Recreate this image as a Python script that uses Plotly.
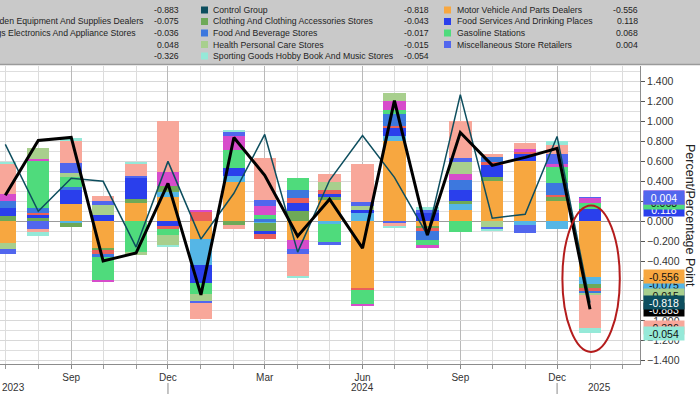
import plotly.graph_objects as go
import pandas as pd

# ---------------- data ----------------
months = pd.date_range("2023-07-01", "2025-01-01", freq="MS")

motor       = [-0.220, 0.000, 0.173, -0.270, 0.180, 0.240, -0.177, 0.390, 0.000, -0.193, 0.210, -0.680, 0.800, -0.050, 0.110, 0.407, 0.607, 0.207, -0.556]
building    = [0.000, 0.000, -0.020, 0.000, 0.000, 0.050, -0.267, 0.067, -0.015, 0.000, -0.025, 0.083, 0.057, 0.000, 0.067, 0.000, -0.043, -0.083, -0.075]
clothing    = [0.050, 0.030, -0.035, -0.020, 0.045, 0.067, 0.000, -0.043, -0.080, 0.100, 0.040, 0.000, 0.000, -0.020, 0.027, 0.033, 0.000, 0.033, -0.043]
food_serv   = [0.087, 0.040, 0.140, 0.067, 0.210, -0.050, -0.180, 0.077, -0.035, 0.083, 0.020, 0.033, 0.083, 0.087, 0.113, 0.133, 0.073, 0.000, 0.118]
electronics = [0.000, 0.010, 0.000, -0.035, 0.000, -0.025, 0.090, 0.000, -0.050, 0.050, 0.040, -0.013, 0.017, -0.033, 0.000, 0.020, 0.010, 0.027, -0.036]
food_bev    = [0.063, 0.057, 0.027, -0.030, 0.000, 0.000, 0.000, 0.000, 0.017, 0.083, 0.000, 0.000, 0.117, -0.083, 0.093, 0.050, 0.000, 0.117, -0.017]
gasoline    = [0.000, 0.467, 0.107, -0.245, -0.310, -0.067, -0.107, 0.180, 0.050, 0.117, -0.180, -0.133, 0.040, -0.057, -0.110, 0.000, 0.000, 0.157, 0.068]
gen_merch   = [0.077, 0.017, 0.000, -0.015, 0.000, 0.133, 0.023, 0.143, 0.090, -0.087, 0.000, -0.020, 0.087, -0.025, 0.067, 0.000, 0.030, 0.030, 0.048]
health      = [-0.060, 0.110, 0.033, 0.100, -0.030, -0.100, -0.067, 0.000, 0.000, 0.000, 0.083, 0.033, 0.090, 0.000, 0.117, -0.067, 0.000, 0.000, -0.015]
misc        = [-0.045, -0.077, 0.100, 0.040, 0.020, 0.000, -0.020, 0.040, 0.057, -0.050, -0.033, 0.043, -0.017, 0.023, 0.043, -0.015, -0.080, 0.100, 0.004]
nonstore    = [0.293, -0.033, 0.233, 0.050, 0.123, 0.517, -0.167, -0.033, 0.423, -0.223, 0.083, 0.377, -0.033, 0.000, 0.373, 0.030, 0.067, 0.093, -0.326]
sporting    = [0.023, -0.040, 0.017, 0.000, 0.017, -0.017, 0.000, 0.017, 0.000, -0.020, 0.000, 0.000, -0.020, 0.033, 0.000, -0.015, 0.000, 0.040, -0.054]

total_sales   = [0.26, 0.81, 0.84, -0.40, -0.32, 0.38, -0.74, 0.84, 0.46, -0.15, 0.22, -0.27, 1.21, -0.14, 0.89, 0.56, 0.64, 0.73, -0.883]
control_group = [0.77, 0.10, 0.43, 0.40, -0.26, 0.60, -0.18, 0.28, 0.87, -0.31, 0.41, 0.86, 0.44, -0.14, 1.27, 0.03, 0.07, 0.85, -0.818]

quarter_ticks = ["2023-09-01", "2023-12-01", "2024-03-01", "2024-06-01", "2024-09-01", "2024-12-01"]
quarter_text = ["Sep", "Dec", "Mar", "Jun", "Sep", "Dec"]

# ---------------- styling ----------------
C = {
    "motor": "#f7a740", "building": "#55b6e6", "clothing": "#6ea957", "food_serv": "#2a3fec",
    "electronics": "#e9605a", "food_bev": "#3d78de", "gasoline": "#4fdb7c", "gen_merch": "#d74ccb",
    "health": "#a8cf8d", "misc": "#5166ee", "nonstore": "#f8a79a", "sporting": "#95e9d8",
    "control": "#0d4e5e", "total": "#000000",
}

stack = [
    ("Motor Vehicle And Parts Dealers", motor, "motor"),
    ("Building Material And Garden Equipment And Supplies Dealers", building, "building"),
    ("Clothing And Clothing Accessories Stores", clothing, "clothing"),
    ("Food Services And Drinking Places", food_serv, "food_serv"),
    ("Furniture Home Furnishings Electronics And Appliance Stores", electronics, "electronics"),
    ("Food And Beverage Stores", food_bev, "food_bev"),
    ("Gasoline Stations", gasoline, "gasoline"),
    ("General Merchandise Stores", gen_merch, "gen_merch"),
    ("Health Personal Care Stores", health, "health"),
    ("Miscellaneous Store Retailers", misc, "misc"),
    ("Nonstore Retailers", nonstore, "nonstore"),
    ("Sporting Goods Hobby Book And Music Stores", sporting, "sporting"),
]

W, H = 700, 394
ML, MR, MT, MB = 0, 60, 66, 30
PW, PH = W - ML - MR, H - MT - MB
FONT = "Liberation Sans, Arial, sans-serif"
LEG = 8.7


def px(x):
    return (x - ML) / PW


def py(y):
    return (H - MB - y) / PH


fig = go.Figure()
bar_w = 21 * 24 * 3600 * 1000
for name, vals, key in stack:
    fig.add_trace(go.Bar(x=months, y=vals, name=name, marker=dict(color=C[key], line=dict(width=0)),
                         width=bar_w, showlegend=False))

fig.add_trace(go.Scatter(x=months, y=control_group, mode="lines", line=dict(color=C["control"], width=1.5),
                         showlegend=False, name="Control Group"))
fig.add_trace(go.Scatter(x=months, y=total_sales, mode="lines", line=dict(color=C["total"], width=3),
                         showlegend=False, name="Retail Sales"))

# ---------------- legend band ----------------
shapes = [
    dict(type="rect", xref="paper", yref="paper", x0=px(0), x1=px(W), y0=py(64), y1=py(0),
         fillcolor="#c9c9c9", line=dict(width=0), layer="below"),
    dict(type="line", xref="paper", yref="paper", x0=px(0), x1=px(W), y0=py(64.5), y1=py(64.5),
         line=dict(color="#9a9a9a", width=1.5)),
]
ann = []
rows = [10, 21.5, 33, 44.5, 56]


def txt(x, y, s, anchor="left", size=LEG, color="#1e1e1e"):
    ann.append(dict(x=px(x), y=py(y), xref="paper", yref="paper", text=s, showarrow=False,
                    xanchor=anchor, yanchor="middle", font=dict(family=FONT, size=size, color=color)))


fmt = lambda v: f"{v:.3f}"

# column 1 (labels cut off on the left, as in the source)
txt(146, rows[1], "Building Material And Garden Equipment And Supplies Dealers", "right")
txt(138, rows[2], "Furniture Home Furnishings Electronics And Appliance Stores", "right")
for r, v in zip(rows, [total_sales[-1], building[-1], electronics[-1], gen_merch[-1], nonstore[-1]]):
    txt(181, r, fmt(v), "right")

col2 = [("Control Group", control_group, "control"), ("Clothing And Clothing Accessories Stores", clothing, "clothing"),
        ("Food And Beverage Stores", food_bev, "food_bev"), ("Health Personal Care Stores", health, "health"),
        ("Sporting Goods Hobby Book And Music Stores", sporting, "sporting")]
col3 = [("Motor Vehicle And Parts Dealers", motor, "motor"), ("Food Services And Drinking Places", food_serv, "food_serv"),
        ("Gasoline Stations", gasoline, "gasoline"), ("Miscellaneous Store Retailers", misc, "misc")]
for (lab, vals, key), r in zip(col2, rows):
    shapes.append(dict(type="rect", xref="paper", yref="paper", x0=px(201), x1=px(208), y0=py(r + 3.5), y1=py(r - 3.5),
                       fillcolor=C[key], line=dict(width=0)))
    txt(211, r, lab)
    txt(431, r, fmt(vals[-1]), "right")
for (lab, vals, key), r in zip(col3, rows):
    shapes.append(dict(type="rect", xref="paper", yref="paper", x0=px(444), x1=px(451), y0=py(r + 3.5), y1=py(r - 3.5),
                       fillcolor=C[key], line=dict(width=0)))
    txt(455, r, lab)
    txt(640, r, fmt(vals[-1]), "right")

# ---------------- right-side value tags (at stack ends of last month) ----------------
last = {key: vals[-1] for _, vals, key in stack}
pos_cum, neg_cum, ends = 0.0, 0.0, {}
for _, vals, key in stack:
    v = vals[-1]
    if v >= 0:
        pos_cum += v
        ends[key] = pos_cum
    else:
        neg_cum += v
        ends[key] = neg_cum
ends["total"] = total_sales[-1]
ends["control"] = control_group[-1]
last["total"] = total_sales[-1]
last["control"] = control_group[-1]

dark_text = {"motor", "building", "clothing", "gasoline", "health", "nonstore", "sporting", "electronics"}
order = ["food_serv", "gasoline", "gen_merch", "misc",
         "nonstore", "sporting", "total", "clothing", "electronics", "food_bev", "building", "motor", "health", "control"]
for key in order:
    ann.append(dict(x=1, y=ends[key], xref="paper", yref="y", text=fmt(last[key]), showarrow=False,
                    xanchor="left", yanchor="middle", xshift=3, width=38, height=11, borderpad=1,
                    bgcolor=C[key], align="center",
                    font=dict(family=FONT, size=10.5, color="#111111" if key in dark_text else "#ffffff")))

# ---------------- year labels / axis title ----------------
txt(0, 388, "2023", "left", 10, "#333333")
ann.append(dict(x="2024-06-01", y=py(388), xref="x", yref="paper", text="2024", showarrow=False,
                xanchor="center", yanchor="middle", font=dict(family=FONT, size=10, color="#333333")))
ann.append(dict(x="2025-01-10", y=py(388), xref="x", yref="paper", text="2025", showarrow=False,
                xanchor="center", yanchor="middle", font=dict(family=FONT, size=10, color="#333333")))
for d in ["2023-12-01", "2024-12-01"]:
    shapes.append(dict(type="line", xref="x", yref="paper", x0=d, x1=d, y0=py(383), y1=py(394),
                       line=dict(color="#8a8a8a", width=1)))
ann.append(dict(x=px(690), y=0.5, xref="paper", yref="paper", text="Percent/Percentage Point", textangle=90,
                showarrow=False, xanchor="center", yanchor="middle", font=dict(family=FONT, size=12.5, color="#222222")))

# red highlight ellipse around the latest month
last_day = months[-1]
shapes.append(dict(type="circle", xref="x", yref="y",
                   x0=last_day - pd.Timedelta(days=26), x1=last_day + pd.Timedelta(days=28),
                   y0=neg_cum - 0.19, y1=pos_cum - 0.08,
                   line=dict(color="#b41c1c", width=2), layer="above"))

fig.update_layout(
    width=W, height=H, barmode="relative", bargap=0,
    margin=dict(l=ML, r=MR, t=MT, b=MB, autoexpand=False),
    paper_bgcolor="#ffffff", plot_bgcolor="#ffffff",
    shapes=shapes, annotations=ann, showlegend=False,
    font=dict(family=FONT, size=10, color="#333333"),
    xaxis=dict(type="date", range=["2023-06-26", "2025-02-17"], tickvals=quarter_ticks, ticktext=quarter_text,
               showgrid=True, gridcolor="#b9b9b9", gridwidth=1, ticks="outside", ticklen=4, tickcolor="#888888",
               showline=True, linecolor="#8c8c8c", linewidth=1,
               tickfont=dict(family=FONT, size=10, color="#333333"),
               minor=dict(dtick="M1", tick0="2023-07-01", showgrid=True, gridcolor="#dcdcdc",
                          ticks="outside", ticklen=4, tickcolor="#999999"),
               zeroline=False),
    yaxis=dict(side="right", range=[-1.433, 1.557], dtick=0.2, tick0=0, tickformat=".3f",
               showgrid=True, gridcolor="#d8d8d8", ticks="outside", ticklen=4, tickcolor="#555555",
               showline=True, linecolor="#8c8c8c", linewidth=1,
               tickfont=dict(family=FONT, size=10.5, color="#333333"),
               minor=dict(dtick=0.1, showgrid=True, gridcolor="#dedede"),
               zeroline=True, zerolinecolor="#9c9c9c", zerolinewidth=1),
)

fig.write_html("out.html", config={"displayModeBar": False},
               post_script="document.body.style.margin='0';document.body.style.overflow='hidden';")
